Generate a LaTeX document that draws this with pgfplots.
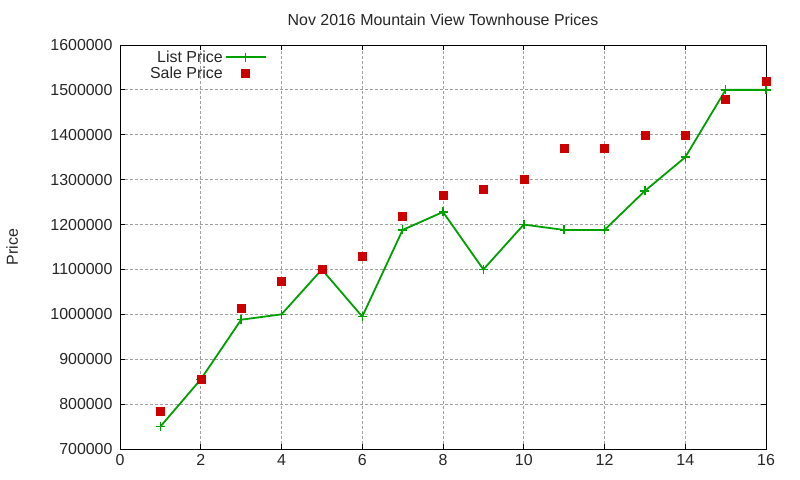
\documentclass[border=0pt]{standalone}
\usepackage{pgfplots}
\pgfplotsset{compat=1.18}
\usepackage{fontspec}
\setmainfont{Liberation Sans}
\definecolor{lgreen}{HTML}{00A000}
\definecolor{sred}{HTML}{CC0000}
\definecolor{gridgray}{HTML}{A0A0A0}
\begin{document}
\begin{tikzpicture}
\path[use as bounding box] (0,0) rectangle (800bp,480bp);
\begin{axis}[
  at={(120bp,31bp)}, anchor=south west,
  scale only axis, width=646bp, height=404bp,
  xmin=0, xmax=16, ymin=700000, ymax=1600000,
  xtick={0,2,...,16}, ytick={700000,800000,...,1600000},
  scaled y ticks=false,
  yticklabel style={/pgf/number format/fixed,/pgf/number format/1000 sep={}, xshift=-4bp},
  xticklabel style={yshift=-2bp},
  /pgf/number format/assume math mode=true,
  tick label style={font=\fontsize{16}{18}\selectfont, text=black!85},
  tick align=inside, major tick length=5bp,
  tick style={black, line width=0.8bp},
  axis line style={black, line width=1bp},
  grid=major, major grid style={gridgray, dash pattern=on 2.5bp off 2.5bp, line width=0.8bp},
  title={Nov 2016 Mountain View Townhouse Prices},
  every axis title/.style={at={(axis description cs:0.5,1)}, anchor=center, yshift=25bp,
     font=\fontsize{16}{18}\selectfont, text=black!85},
  ylabel={Price},
  every axis y label/.style={at={(axis description cs:-0.167,0.5)}, rotate=90, anchor=center,
     font=\fontsize{16}{18}\selectfont, text=black!85},
  legend plot pos=right, legend cell align=right,
  legend style={draw=none, fill=none, at={(0.02,1.0)}, anchor=north west, xshift=12bp, yshift=-1.5bp,
    font=\fontsize{16}{17}\selectfont, text=black!85, row sep=-1bp},
  legend image code/.code={\draw[#1] (0bp,0bp) -- (40bp,0bp); \draw[#1, only marks] plot coordinates {(20bp,0bp)};},
]
\addplot[lgreen, line width=1.8bp, mark=+, mark size=4.5bp, mark options={line width=1.5bp}] coordinates {
(1,750000) (2,855000) (3,988000) (4,1000000) (5,1100000) (6,995000) (7,1188000) (8,1228000)
(9,1100000) (10,1200000) (11,1188000) (12,1188000) (13,1275000) (14,1350000) (15,1500000) (16,1500000)};
\addlegendentry{List Price}
\addplot[only marks, mark=square*, mark size=4bp, color=sred, legend image code/.code={\fill[sred] (16bp,-4bp) rectangle (24bp,4bp);}] coordinates {
(1,785000) (2,855000) (3,1014000) (4,1074000) (5,1100000) (6,1130000) (7,1219000) (8,1266000)
(9,1279000) (10,1300000) (11,1370000) (12,1370000) (13,1400000) (14,1400000) (15,1480000) (16,1520000)};
\addlegendentry{Sale Price}
\end{axis}
\end{tikzpicture}
\end{document}
